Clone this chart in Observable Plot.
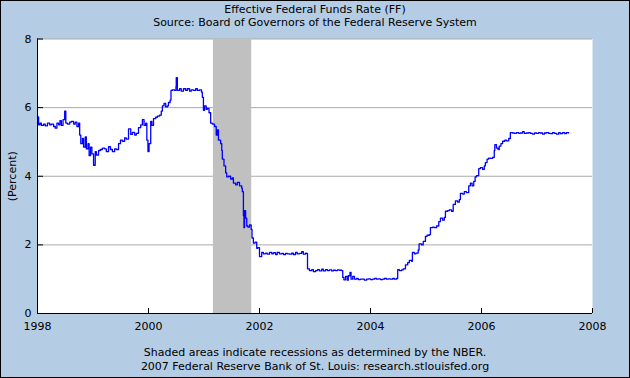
<!DOCTYPE html>
<html><head><meta charset="utf-8">
<script src="https://cdn.jsdelivr.net/npm/d3@7"></script>
<script src="https://cdn.jsdelivr.net/npm/@observablehq/plot@0.6"></script>
<style>
html,body{margin:0;padding:0;background:#fff;}
#wrap{position:relative;width:630px;height:378px;background:#b4cce4;font-family:"DejaVu Sans",Verdana,sans-serif;overflow:hidden}
#border{position:absolute;left:0;top:0;width:630px;height:378px;box-sizing:border-box;border:1px solid #000;pointer-events:none;z-index:5}
.t{position:absolute;left:0;width:630px;text-align:center;font-size:11px;line-height:13px;color:#000;white-space:nowrap}
#chart{position:absolute;left:0;top:32px;}
</style></head><body>
<div id="wrap">
<div class="t" style="top:3px">Effective Federal Funds Rate (FF)</div>
<div class="t" style="top:16px">Source: Board of Governors of the Federal Reserve System</div>
<div id="chart"></div>
<div class="t" style="top:346px">Shaded areas indicate recessions as determined by the NBER.</div>
<div class="t" style="top:360px">2007 Federal Reserve Bank of St. Louis: research.stlouisfed.org</div>
<div id="border"></div>
</div>
<script>
// Decimal-year dates and effective federal funds rate (percent)
const dates = [
1998.00,1998.02,1998.045,1998.07,1998.11,1998.14,1998.18,1998.22,1998.25,1998.29,1998.32,1998.35,1998.38,1998.405,1998.43,1998.46,1998.49,1998.51,1998.54,1998.58,1998.61,1998.65,1998.68,1998.71,1998.74,1998.76,1998.78,1998.81,1998.83,1998.86,1998.88,1998.91,1998.93,1998.955,1998.98,
1999.01,1999.04,1999.06,1999.10,1999.135,1999.17,1999.21,1999.24,1999.28,1999.315,1999.35,1999.39,1999.42,1999.46,1999.495,1999.53,1999.57,1999.60,1999.64,1999.68,1999.71,1999.75,1999.78,1999.82,1999.86,1999.89,1999.92,1999.95,1999.97,1999.99,
2000.01,2000.04,2000.06,2000.09,2000.13,2000.16,2000.20,2000.23,2000.25,2000.28,2000.31,2000.34,2000.36,2000.39,2000.405,2000.43,2000.47,2000.495,2000.50,2000.52,2000.56,2000.59,2000.63,2000.67,2000.70,2000.74,2000.77,2000.81,2000.85,2000.88,2000.92,2000.955,2000.97,2000.99,
2001.01,2001.04,2001.06,2001.09,2001.12,2001.15,2001.19,2001.22,2001.24,2001.26,2001.30,2001.32,2001.33,2001.36,2001.39,2001.41,2001.44,2001.48,2001.51,2001.53,2001.57,2001.60,2001.64,2001.68,2001.69,2001.71,2001.72,2001.73,2001.75,2001.77,2001.79,2001.82,2001.85,2001.865,2001.89,2001.92,2001.95,2001.97,
2002.00,2002.04,2002.07,2002.11,2002.14,2002.18,2002.22,2002.25,2002.29,2002.32,2002.36,2002.40,2002.43,2002.47,2002.50,2002.54,2002.58,2002.61,2002.65,2002.68,2002.72,2002.76,2002.79,2002.83,2002.845,2002.865,2002.90,2002.94,2002.97,
2003.01,2003.045,2003.08,2003.12,2003.15,2003.19,2003.225,2003.26,2003.30,2003.33,2003.37,2003.405,2003.44,2003.48,2003.50,2003.52,2003.55,2003.58,2003.60,2003.63,2003.65,2003.68,2003.71,2003.75,2003.78,2003.82,2003.86,2003.89,2003.93,2003.96,
2004.00,2004.04,2004.07,2004.11,2004.14,2004.18,2004.22,2004.25,2004.29,2004.32,2004.36,2004.40,2004.43,2004.47,2004.49,2004.52,2004.56,2004.59,2004.63,2004.67,2004.70,2004.74,2004.755,2004.79,2004.82,2004.86,2004.875,2004.92,2004.95,2004.99,
2005.02,2005.06,2005.08,2005.12,2005.15,2005.19,2005.23,2005.26,2005.30,2005.33,2005.35,2005.39,2005.42,2005.46,2005.49,2005.53,2005.57,2005.60,2005.62,2005.66,2005.69,2005.73,2005.77,2005.80,2005.83,2005.86,2005.885,2005.91,2005.95,2005.98,
2006.02,2006.05,2006.07,2006.10,2006.13,2006.16,2006.20,2006.23,2006.24,2006.27,2006.30,2006.32,2006.35,2006.38,2006.42,2006.45,2006.49,2006.52,2006.56,2006.59,2006.63,2006.67,2006.70,2006.74,2006.77,2006.81,2006.85,2006.88,2006.92,2006.955,2006.99,
2007.03,2007.06,2007.10,2007.135,2007.17,2007.21,2007.24,2007.28,2007.315,2007.35,2007.39,2007.42,2007.46,2007.50,2007.53,2007.57
];
const rates = [
5.73,5.50,5.55,5.48,5.52,5.47,5.55,5.50,5.52,5.45,5.40,5.55,5.50,5.62,5.48,5.65,5.90,5.55,5.52,5.58,5.60,5.52,5.58,5.45,5.55,5.20,4.95,5.10,4.85,5.15,4.80,4.95,4.60,4.85,4.65,
4.32,4.72,4.62,4.75,4.78,4.82,4.80,4.72,4.86,4.78,4.72,4.80,4.78,4.95,5.05,5.02,5.12,5.08,5.38,5.22,5.28,5.20,5.25,5.42,5.50,5.65,5.48,5.55,5.05,4.72,
4.95,5.60,5.48,5.68,5.72,5.75,5.78,5.90,6.05,6.12,6.02,6.05,6.15,6.22,6.50,6.52,6.50,6.62,6.87,6.50,6.55,6.48,6.55,6.50,6.55,6.48,6.52,6.50,6.55,6.50,6.52,6.45,6.30,5.92,
6.05,5.95,5.98,5.85,5.55,5.52,5.45,5.20,5.35,5.05,4.95,4.75,4.50,4.30,4.10,3.98,4.00,3.92,3.95,3.80,3.75,3.82,3.72,3.65,3.55,2.85,2.50,3.00,2.78,2.55,2.52,2.58,2.45,2.20,2.05,2.08,1.90,1.92,
1.66,1.78,1.74,1.76,1.73,1.78,1.74,1.77,1.72,1.78,1.74,1.75,1.72,1.75,1.74,1.73,1.76,1.72,1.78,1.74,1.75,1.80,1.73,1.76,1.75,1.30,1.25,1.28,1.22,
1.25,1.28,1.24,1.29,1.24,1.28,1.25,1.27,1.24,1.26,1.25,1.27,1.26,1.25,1.05,0.98,1.08,0.97,1.10,1.20,1.00,1.08,1.00,1.02,0.99,1.00,1.00,0.97,1.00,1.01,
0.99,1.00,1.02,1.00,1.01,0.99,1.00,1.02,1.00,1.01,1.00,1.02,1.00,1.02,1.28,1.25,1.27,1.30,1.42,1.48,1.55,1.52,1.78,1.74,1.76,1.85,2.03,2.00,2.10,2.25,
2.28,2.30,2.50,2.52,2.50,2.55,2.68,2.78,2.72,2.80,2.98,3.00,3.02,2.98,3.18,3.28,3.25,3.32,3.50,3.48,3.55,3.52,3.72,3.80,3.72,3.85,3.98,4.02,4.22,4.25,
4.20,4.30,4.40,4.50,4.53,4.52,4.55,4.75,4.92,4.82,4.78,4.88,4.95,5.02,5.05,5.03,5.10,5.27,5.26,5.25,5.27,5.25,5.26,5.30,5.25,5.26,5.27,5.25,5.23,5.26,5.25,
5.27,5.26,5.23,5.26,5.27,5.25,5.24,5.27,5.25,5.23,5.27,5.24,5.27,5.24,5.27,5.26
];
// NBER recession (Mar 2001 - Nov 2001)
const recessionStart = [2001.17];
const recessionEnd = [2001.86];
const xTicks = [1998, 2000, 2002, 2004, 2006, 2008];
const yTicks = [0, 2, 4, 6, 8];
const gridLines = [2, 4, 6, 8];

const series = dates.map((t, i) => ({t, v: rates[i]}));
const recessions = recessionStart.map((s, i) => ({s, e: recessionEnd[i]}));

const chart = Plot.plot({
  width: 630,
  height: 313,
  marginLeft: 37,
  marginRight: 38,
  marginTop: 6.5,
  marginBottom: 32,
  style: {background: "transparent", fontFamily: "DejaVu Sans, Verdana, sans-serif", fontSize: "11px", color: "#000", overflow: "visible"},
  x: {domain: [1998, 2008]},
  y: {domain: [0, 8]},
  marks: [
    Plot.frame({fill: "white", stroke: null}),
    Plot.ruleY(gridLines, {stroke: "#aaaaaa", strokeWidth: 1}),
    Plot.rectX(recessions, {x1: "s", x2: "e", fill: "#c0c0c0"}),
    Plot.line(series, {x: "t", y: "v", stroke: "#0000ff", strokeWidth: 1.3, curve: "step-after"}),
    Plot.ruleX([1998], {stroke: "#000"}),
    Plot.ruleY([0], {stroke: "#000"}),
    Plot.axisX(xTicks, {tickSize: -5, tickPadding: 14, tickFormat: d => String(d), label: null, stroke: "#000"}),
    Plot.axisY(yTicks, {tickSize: -6, tickPadding: 12, label: "(Percent)", labelAnchor: "center", labelArrow: "none", labelOffset: 29, stroke: "#000"})
  ]
});
document.getElementById("chart").appendChild(chart);
</script>
</body></html>
